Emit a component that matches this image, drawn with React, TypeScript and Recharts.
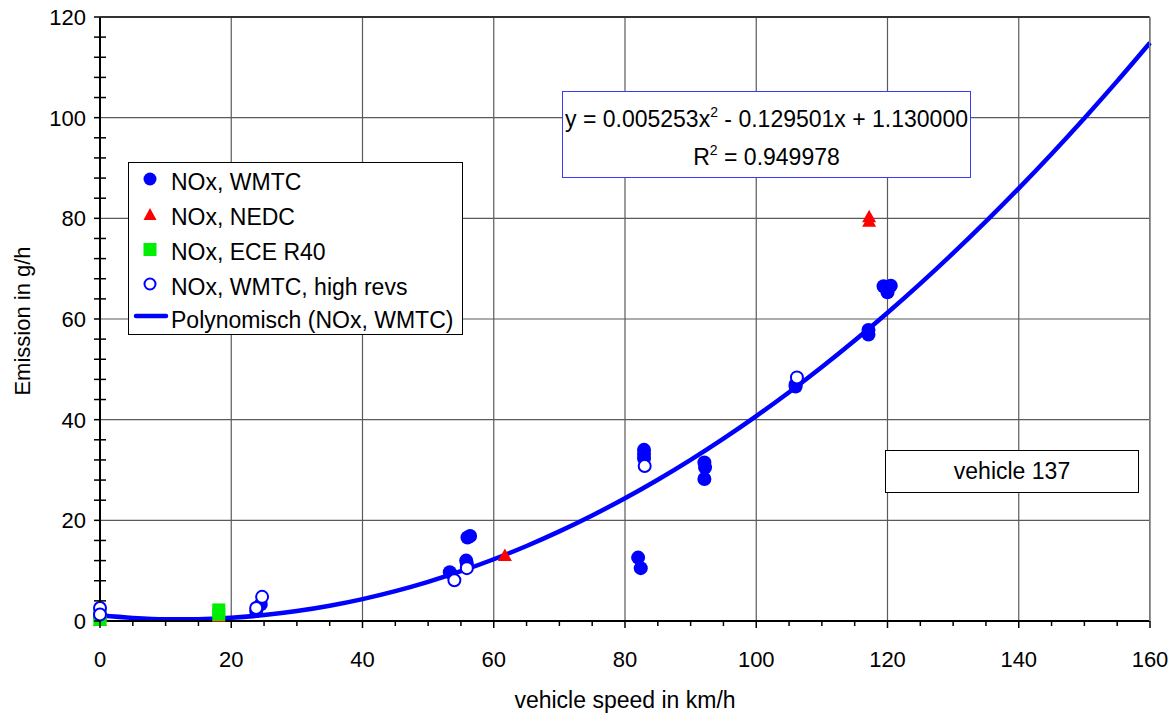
import React from "react";
import {
  ComposedChart, Line, Scatter, XAxis, YAxis, CartesianGrid,
} from "recharts";

// measured points, [speed km/h, NOx g/h]
const wmtc: [number, number][] = [
  [0, 0.8], [23.8, 2.0], [24.5, 3.3],
  [53.3, 9.7], [55.8, 12.0], [55.9, 11.4], [56.0, 16.6], [56.4, 16.9],
  [82.0, 12.6], [82.4, 10.5],
  [82.9, 34.0], [82.9, 33.2], [82.9, 32.3],
  [92.1, 31.5], [92.2, 30.5], [92.1, 28.2],
  [106.0, 46.6], [106.0, 47.0],
  [117.1, 57.8], [117.1, 56.9],
  [119.4, 66.5], [120.5, 66.6], [120.0, 65.3],
];
const nedc: [number, number][] = [
  [0, 0.1], [18.1, 0.9], [61.7, 13.0], [117.2, 80.3], [117.2, 79.4],
];
const eceR40: [number, number][] = [
  [0, 1.0], [0, 0.3], [18.1, 2.2], [18.1, 1.3],
];
const highRevs: [number, number][] = [
  [0, 2.6], [0, 1.3], [23.8, 2.6], [24.7, 4.8],
  [54.0, 8.1], [55.9, 10.5], [83.0, 30.8], [106.2, 48.4],
];

// fitted polynomial y = a*x^2 + b*x + c
const polyCoef = [0.005253, -0.129501, 1.13];
const rSquared = 0.949978;

const xMajor = [0, 20, 40, 60, 80, 100, 120, 140, 160];
const yMajor = [0, 20, 40, 60, 80, 100, 120];
const xTicks = Array.from({ length: 33 }, (_, i) => i * 5);
const yTicks = Array.from({ length: 31 }, (_, i) => i * 4);

const toPts = (arr: [number, number][]) => arr.map(([x, y]) => ({ x, y }));

const trend = xTicks.map((x) => ({
  x,
  y: polyCoef[0] * x * x + polyCoef[1] * x + polyCoef[2],
}));

const BLUE = "#0000ff";
const FONT = "'Liberation Sans', Arial, sans-serif";
const TS = 6;
const TM = 2;

function XTick(props: any) {
  const { x, y, payload } = props;
  const ay = y - TS - TM;
  const major = payload.value % 20 === 0;
  return (
    <g>
      <line x1={x} x2={x} y1={ay} y2={ay + (major ? 7 : 5)} stroke="#000" strokeWidth={1.5} />
      {major && (
        <text x={x} y={ay + 46} textAnchor="middle" fontSize={22} fontFamily={FONT} fill="#000">
          {payload.value}
        </text>
      )}
    </g>
  );
}

function YTick(props: any) {
  const { x, y, payload } = props;
  const ax = x + TS + TM;
  const major = payload.value % 20 === 0;
  return (
    <g>
      <line x1={ax - 6} x2={major ? ax : ax + 6} y1={y} y2={y} stroke="#000" strokeWidth={1.5} />
      {major && (
        <text x={ax - 14} y={y} dy="0.36em" textAnchor="end" fontSize={22} fontFamily={FONT} fill="#000">
          {payload.value}
        </text>
      )}
    </g>
  );
}

const dotShape = (p: any) => <circle cx={p.cx} cy={p.cy} r={7} fill={BLUE} />;
const ringShape = (p: any) => (
  <circle cx={p.cx} cy={p.cy} r={6} fill="#fff" stroke={BLUE} strokeWidth={2} />
);
const triShape = (p: any) => (
  <path d={`M${p.cx},${p.cy - 7}L${p.cx + 7},${p.cy + 5.5}L${p.cx - 7},${p.cy + 5.5}Z`} fill="#ff0000" />
);
const squareShape = (p: any) => (
  <rect x={p.cx - 6.5} y={p.cy - 6.5} width={13} height={13} fill="#00ee00" />
);

const legendRows = [
  { label: "NOx, WMTC", kind: "dot" },
  { label: "NOx, NEDC", kind: "tri" },
  { label: "NOx, ECE R40", kind: "square" },
  { label: "NOx, WMTC, high revs", kind: "ring" },
  { label: "Polynomisch (NOx, WMTC)", kind: "line" },
];
const legendRowY = [20, 55, 90, 125, 158];

function LegendMarker({ kind, cy }: { kind: string; cy: number }) {
  const cx = 22;
  if (kind === "dot") return <circle cx={cx} cy={cy - 3} r={6.5} fill={BLUE} />;
  if (kind === "ring") return <circle cx={cx} cy={cy - 3} r={5.5} fill="#fff" stroke={BLUE} strokeWidth={2} />;
  if (kind === "tri")
    return <path d={`M${cx},${cy - 9}L${cx + 6.5},${cy + 3}L${cx - 6.5},${cy + 3}Z`} fill="#ff0000" />;
  if (kind === "square") return <rect x={cx - 6.5} y={cy - 9} width={13} height={13} fill="#00ee00" />;
  return <line x1={8} x2={38} y1={cy - 4} y2={cy - 4} stroke={BLUE} strokeWidth={4.5} strokeLinecap="round" />;
}

const supStyle: React.CSSProperties = {
  fontSize: 14, lineHeight: 0, verticalAlign: "baseline", position: "relative", top: "-0.75em",
};

export default function App() {
  return (
    <div style={{ position: "absolute", left: 0, top: 0, width: 1174, height: 713, background: "#fff", fontFamily: FONT }}>
      <ComposedChart width={1174} height={713} margin={{ top: 17, right: 24, bottom: 0, left: 0 }}>
        <CartesianGrid
          stroke="#5a5a5a"
          strokeWidth={1.2}
          horizontalValues={yMajor}
          verticalValues={xMajor}
        />
        <XAxis
          type="number"
          dataKey="x"
          domain={[0, 160]}
          ticks={xTicks}
          interval={0}
          height={92}
          tickSize={TS}
          tickMargin={TM}
          tickLine={false}
          tick={<XTick />}
          axisLine={{ stroke: "#000", strokeWidth: 2 }}
          label={(p: any) => {
            const vb = p.viewBox;
            return (
              <text x={vb.x + vb.width / 2} y={vb.y + 87} textAnchor="middle" fontSize={23} fontFamily={FONT} fill="#000">
                vehicle speed in km/h
              </text>
            );
          }}
        />
        <YAxis
          type="number"
          dataKey="y"
          domain={[0, 120]}
          ticks={yTicks}
          interval={0}
          width={100}
          tickSize={TS}
          tickMargin={TM}
          tickLine={false}
          tick={<YTick />}
          axisLine={{ stroke: "#000", strokeWidth: 2 }}
          label={(p: any) => {
            const vb = p.viewBox;
            const cy = vb.y + vb.height / 2 + 2;
            return (
              <text x={22} y={cy} transform={`rotate(-90 22 ${cy})`} dy="0.36em" textAnchor="middle" fontSize={22} fontFamily={FONT} fill="#000">
                Emission in g/h
              </text>
            );
          }}
        />
        <Line
          data={trend}
          dataKey="y"
          type="monotone"
          stroke={BLUE}
          strokeWidth={4.5}
          dot={false}
          isAnimationActive={false}
        />
        <Scatter data={toPts(wmtc)} dataKey="y" shape={dotShape} isAnimationActive={false} />
        <Scatter data={toPts(nedc)} dataKey="y" shape={triShape} isAnimationActive={false} />
        <Scatter data={toPts(eceR40)} dataKey="y" shape={squareShape} isAnimationActive={false} />
        <Scatter data={toPts(highRevs)} dataKey="y" shape={ringShape} isAnimationActive={false} />
      </ComposedChart>

      {/* top and right frame of the plot */}
      <div style={{ position: "absolute", left: 100, top: 16, width: 1050, height: 0, borderTop: "2px solid #333" }} />
      <div style={{ position: "absolute", left: 1149, top: 16, width: 0, height: 605, borderLeft: "1.5px solid #777" }} />

      <svg style={{ position: "absolute", left: 128, top: 162 }} width={335} height={173}>
        <rect x={0.5} y={0.5} width={334} height={172} fill="#fff" stroke="#000" strokeWidth={1} />
        {legendRows.map((r, i) => (
          <g key={r.label}>
            <LegendMarker kind={r.kind} cy={legendRowY[i]} />
            <text x={43} y={legendRowY[i]} dy="0.36em" fontSize={23} fontFamily={FONT} fill="#000">
              {r.label}
            </text>
          </g>
        ))}
      </svg>

      <div
        style={{
          position: "absolute", left: 562, top: 91, width: 407, height: 85,
          border: "1px solid #3a3aff", background: "#fff", textAlign: "center",
          fontSize: 23, color: "#000",
        }}
      >
        <div style={{ lineHeight: "38px", marginTop: 8, whiteSpace: "nowrap" }}>
          y = {polyCoef[0].toFixed(6)}x<sup style={supStyle}>2</sup> - {Math.abs(polyCoef[1]).toFixed(6)}x + {polyCoef[2].toFixed(6)}
        </div>
        <div style={{ lineHeight: "38px" }}>
          R<sup style={supStyle}>2</sup> = {rSquared.toFixed(6)}
        </div>
      </div>

      <div
        style={{
          position: "absolute", left: 885, top: 450, width: 252, height: 41,
          border: "1px solid #000", background: "#fff", textAlign: "center",
          fontSize: 23, lineHeight: "41px", color: "#000",
        }}
      >
        vehicle 137
      </div>
    </div>
  );
}
